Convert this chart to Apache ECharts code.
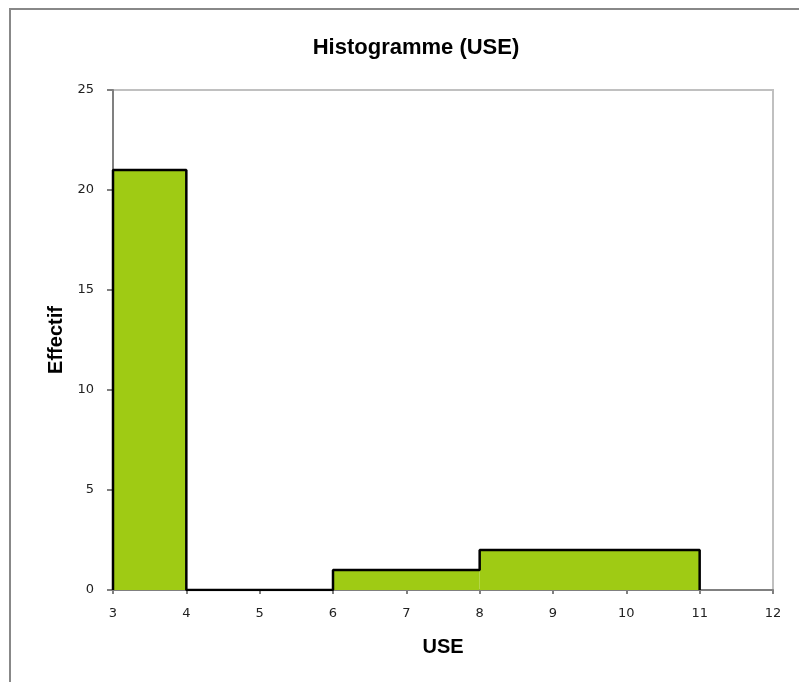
<!DOCTYPE html>
<html>
<head>
<meta charset="utf-8">
<script src="https://cdn.jsdelivr.net/npm/echarts@6/dist/echarts.min.js"></script>
<style>html,body{margin:0;padding:0;background:#fff}#c{width:799px;height:682px}</style>
</head>
<body>
<div id="c"></div>
<script>
const binEdges = [3, 4, 6, 8, 11];
const counts = [21, 0, 1, 2];
const xTicks = [3, 4, 5, 6, 7, 8, 9, 10, 11, 12];
const yTicks = [0, 5, 10, 15, 20, 25];
const titleText = 'Histogramme (USE)';
const xName = 'USE';
const yName = 'Effectif';

const bars = counts.map((c, i) => [binEdges[i], binEdges[i + 1], c]);
// outline of histogram
const outline = [];
outline.push([binEdges[0], 0]);
counts.forEach((c, i) => {
  outline.push([binEdges[i], c]);
  outline.push([binEdges[i + 1], c]);
  if (i === 0) outline.push([binEdges[1], 0]);
});
outline.push([binEdges[binEdges.length - 1], 0]);

const chart = echarts.init(document.getElementById('c'));
chart.setOption({
  animation: false,
  title: {
    text: titleText, left: 411, top: 32, textAlign: 'center',
    textStyle: { fontFamily: 'Liberation Sans, Arial', fontWeight: 'bold', fontSize: 22, color: '#000' }
  },
  graphic: [{
    type: 'rect', shape: { x: 10, y: 9, width: 820, height: 700 },
    style: { fill: 'none', stroke: '#888', lineWidth: 2 }, z: -1
  }],
  grid: { left: 113, top: 90, right: 26, bottom: 92, show: true, borderColor: '#c0c0c0', borderWidth: 2, backgroundColor: '#fff' },
  xAxis: {
    type: 'value', min: xTicks[0], max: xTicks[xTicks.length - 1], interval: 1,
    name: xName, nameLocation: 'middle', nameGap: 47,
    nameTextStyle: { fontFamily: 'Liberation Sans, Arial', fontWeight: 'bold', fontSize: 20, color: '#000' },
    axisLine: { lineStyle: { color: '#808080', width: 2 } },
    axisTick: { show: true, length: 4, lineStyle: { color: '#808080', width: 2 } },
    axisLabel: { fontFamily: 'DejaVu Sans', fontSize: 13, color: '#222', margin: 17 },
    splitLine: { show: false }
  },
  yAxis: {
    type: 'value', min: yTicks[0], max: yTicks[yTicks.length - 1], interval: 5,
    name: yName, nameLocation: 'middle', nameGap: 46,
    nameTextStyle: { fontFamily: 'Liberation Sans, Arial', fontWeight: 'bold', fontSize: 20, color: '#000' },
    axisLine: { show: true, lineStyle: { color: '#808080', width: 2 } },
    axisTick: { show: true, length: 6, lineStyle: { color: '#808080', width: 2 } },
    axisLabel: { fontFamily: 'DejaVu Sans', fontSize: 13, color: '#222', margin: 19 },
    splitLine: { show: false }
  },
  series: [
    {
      type: 'custom',
      data: bars,
      renderItem: function (params, api) {
        const p0 = api.coord([api.value(0), api.value(2)]);
        const p1 = api.coord([api.value(1), 0]);
        return {
          type: 'rect',
          shape: { x: p0[0], y: p0[1], width: p1[0] - p0[0], height: p1[1] - p0[1] },
          style: { fill: '#9fcb14' }
        };
      },
      z: 2
    },
    {
      type: 'line',
      data: outline,
      symbol: 'none',
      lineStyle: { color: '#000', width: 2.5 },
      z: 3
    }
  ]
});
</script>
</body>
</html>
